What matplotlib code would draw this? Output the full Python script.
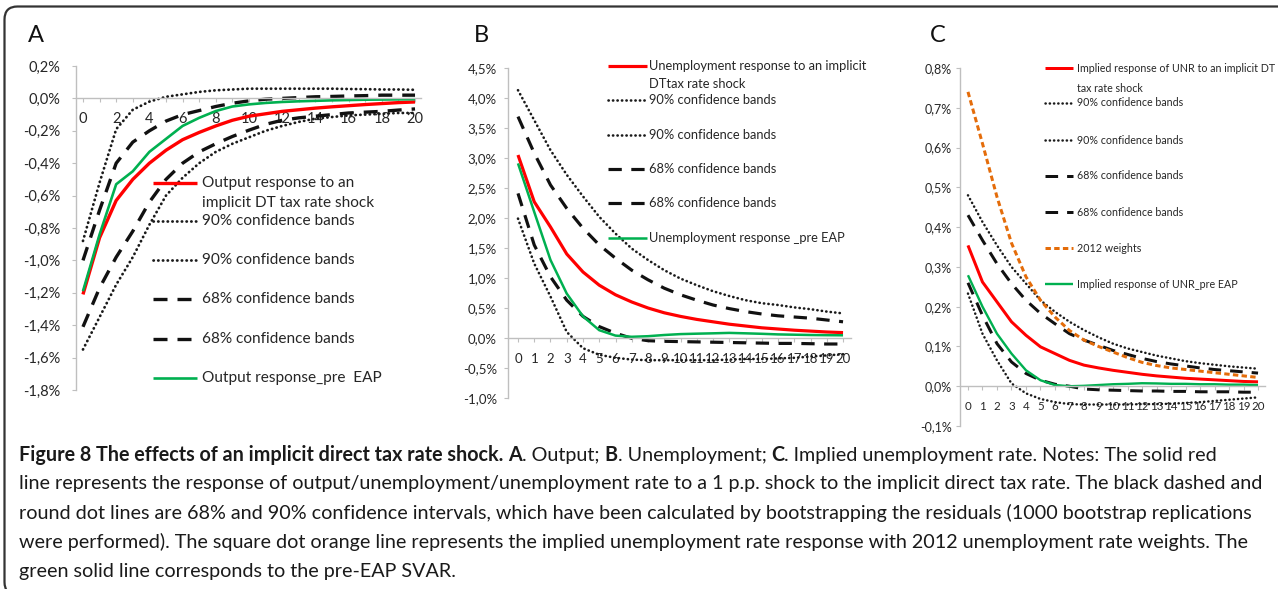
import matplotlib
matplotlib.use("Agg")
import matplotlib.pyplot as plt
from matplotlib.lines import Line2D
from matplotlib.patches import FancyBboxPatch

W, H, DPI = 1278, 589, 100

# ------------------------------------------------------------------ data
periods = list(range(21))

# Panel A: output
a_point = [-1.21, -0.86, -0.63, -0.50, -0.40, -0.32, -0.255, -0.21, -0.17, -0.135, -0.11,
           -0.095, -0.08, -0.07, -0.06, -0.052, -0.045, -0.038, -0.032, -0.026, -0.022]
a_upper90 = [-0.88, -0.52, -0.19, -0.07, -0.02, 0.01, 0.025, 0.04, 0.05, 0.055, 0.06,
             0.06, 0.06, 0.06, 0.06, 0.06, 0.058, 0.057, 0.055, 0.055, 0.053]
a_lower90 = [-1.55, -1.35, -1.15, -0.98, -0.78, -0.60, -0.49, -0.40, -0.33, -0.28, -0.24,
             -0.20, -0.17, -0.145, -0.125, -0.115, -0.105, -0.10, -0.095, -0.09, -0.09]
a_upper68 = [-1.00, -0.69, -0.40, -0.27, -0.20, -0.14, -0.10, -0.075, -0.05, -0.03, -0.015,
             -0.005, 0.0, 0.005, 0.01, 0.012, 0.015, 0.017, 0.02, 0.02, 0.02]
a_lower68 = [-1.41, -1.17, -0.98, -0.82, -0.64, -0.50, -0.40, -0.33, -0.28, -0.235, -0.196,
             -0.16, -0.135, -0.12, -0.11, -0.10, -0.09, -0.085, -0.08, -0.072, -0.065]
a_pre = [-1.19, -0.84, -0.53, -0.45, -0.33, -0.25, -0.17, -0.12, -0.078, -0.05, -0.037,
         -0.028, -0.022, -0.018, -0.015, -0.012, -0.01, -0.008, -0.007, -0.006, -0.005]

# Panel B: unemployment
b_point = [3.05, 2.27, 1.85, 1.40, 1.10, 0.88, 0.72, 0.60, 0.50, 0.42, 0.36,
           0.31, 0.27, 0.23, 0.20, 0.17, 0.15, 0.13, 0.115, 0.10, 0.09]
b_upper90 = [4.13, 3.63, 3.13, 2.72, 2.36, 2.02, 1.74, 1.49, 1.30, 1.13, 0.99,
             0.88, 0.78, 0.70, 0.63, 0.58, 0.55, 0.51, 0.48, 0.44, 0.41]
b_lower90 = [1.99, 1.24, 0.69, 0.10, -0.17, -0.28, -0.33, -0.36, -0.37, -0.37, -0.37,
             -0.37, -0.37, -0.36, -0.35, -0.35, -0.34, -0.33, -0.31, -0.29, -0.27]
b_upper68 = [3.69, 3.08, 2.55, 2.16, 1.83, 1.55, 1.33, 1.13, 0.97, 0.83, 0.72,
             0.63, 0.55, 0.49, 0.44, 0.40, 0.37, 0.35, 0.33, 0.30, 0.27]
b_lower68 = [2.41, 1.55, 1.02, 0.63, 0.36, 0.19, 0.08, -0.005, -0.045, -0.055, -0.06,
             -0.065, -0.07, -0.075, -0.08, -0.085, -0.09, -0.09, -0.095, -0.10, -0.10]
b_pre = [2.91, 2.10, 1.30, 0.74, 0.36, 0.13, 0.04, 0.02, 0.03, 0.05, 0.065,
         0.072, 0.078, 0.085, 0.078, 0.07, 0.06, 0.055, 0.05, 0.047, 0.045]

# Panel C: implied unemployment rate
c_point = [0.354, 0.262, 0.212, 0.162, 0.128, 0.099, 0.082, 0.065, 0.053, 0.046, 0.040,
           0.035, 0.030, 0.026, 0.023, 0.020, 0.018, 0.016, 0.014, 0.012, 0.011]
c_upper90 = [0.48, 0.413, 0.354, 0.30, 0.258, 0.216, 0.187, 0.162, 0.141, 0.123, 0.107,
             0.095, 0.086, 0.077, 0.07, 0.063, 0.058, 0.054, 0.050, 0.047, 0.044]
c_lower90 = [0.233, 0.132, 0.065, 0.007, -0.018, -0.032, -0.040, -0.045, -0.046, -0.046, -0.046,
             -0.046, -0.045, -0.045, -0.044, -0.042, -0.040, -0.037, -0.034, -0.031, -0.028]
c_upper68 = [0.43, 0.367, 0.308, 0.258, 0.216, 0.183, 0.157, 0.132, 0.116, 0.103, 0.09,
             0.08, 0.07, 0.062, 0.056, 0.051, 0.046, 0.042, 0.039, 0.036, 0.033]
c_lower68 = [0.26, 0.178, 0.107, 0.061, 0.032, 0.015, 0.005, 0.0, -0.007, -0.009, -0.01,
             -0.011, -0.012, -0.012, -0.013, -0.013, -0.014, -0.014, -0.014, -0.015, -0.015]
c_w2012 = [0.74, 0.61, 0.476, 0.36, 0.275, 0.216, 0.174, 0.14, 0.116, 0.10, 0.086,
           0.072, 0.06, 0.052, 0.046, 0.042, 0.038, 0.034, 0.030, 0.026, 0.022]
c_pre = [0.279, 0.20, 0.132, 0.082, 0.04, 0.015, 0.003, 0.0, 0.001, 0.003, 0.005,
         0.006, 0.0075, 0.007, 0.006, 0.006, 0.005, 0.005, 0.004, 0.004, 0.003]

# ticks and labels
a_yticks = [0.2, 0.0, -0.2, -0.4, -0.6, -0.8, -1.0, -1.2, -1.4, -1.6, -1.8]
b_yticks = [4.5, 4.0, 3.5, 3.0, 2.5, 2.0, 1.5, 1.0, 0.5, 0.0, -0.5, -1.0]
c_yticks = [0.8, 0.7, 0.6, 0.5, 0.4, 0.3, 0.2, 0.1, 0.0, -0.1]
a_xticklabels = [str(p) if p % 2 == 0 else "" for p in periods]
bc_xticklabels = [str(p) for p in periods]

a_labels = ["Output response to an\nimplicit DT tax rate shock", "90% confidence bands",
            "90% confidence bands", "68% confidence bands", "68% confidence bands",
            "Output response_pre  EAP"]
b_labels = ["Unemployment response to an implicit\nDTtax rate shock", "90% confidence bands",
            "90% confidence bands", "68% confidence bands", "68% confidence bands",
            "Unemployment response _pre EAP"]
c_labels = ["Implied response of UNR to an implicit DT\ntax rate shock", "90% confidence bands",
            "90% confidence bands", "68% confidence bands", "68% confidence bands",
            "2012 weights", "Implied response of UNR_pre EAP"]

caption_lines = [
    [("Figure 8 The effects of an implicit direct tax rate shock. ", True), ("A", True),
     (". Output; ", False), ("B", True), (". Unemployment; ", False), ("C", True),
     (". Implied unemployment rate. Notes: The solid red", False)],
    [("line represents the response of output/unemployment/unemployment rate to a 1 p.p. "
      "shock to the implicit direct tax rate. The black dashed and", False)],
    [("round dot lines are 68% and 90% confidence intervals, which have been calculated by "
      "bootstrapping the residuals (1000 bootstrap replications", False)],
    [("were performed). The square dot orange line represents the implied unemployment rate "
      "response with 2012 unemployment rate weights. The", False)],
    [("green solid line corresponds to the pre-EAP SVAR.", False)],
]

# ------------------------------------------------------------------ styles
RED = "#FF0000"
GREEN = "#00B050"
ORANGE = "#E46C0A"
AXC = "#BFBFBF"
TXT = "#262626"
FONT = ["Lato", "DejaVu Sans"]


def styles(scale=1.0):
    return {
        "red": dict(color=RED, lw=2.4 * scale, solid_capstyle="butt"),
        "dot": dict(color="#1a1a1a", lw=2.0 * scale, linestyle=(0, (0.1, 1.6)),
                    dash_capstyle="round"),
        "dash": dict(color="#111111", lw=2.4 * scale, linestyle=(0, (4.2, 3.0)),
                     dash_capstyle="butt"),
        "orange": dict(color=ORANGE, lw=2.4 * scale, linestyle=(0, (1.8, 1.1)),
                       dash_capstyle="butt"),
        "green": dict(color=GREEN, lw=1.9 * scale, solid_capstyle="butt"),
    }


fig = plt.figure(figsize=(W / DPI, H / DPI), dpi=DPI)
fig.patch.set_facecolor("white")
renderer = fig.canvas.get_renderer()


def fx(px):
    return px / W


def fy(py):
    return 1 - py / H


def make_ax(l, r, t, b):
    return fig.add_axes([l / W, 1 - b / H, (r - l) / W, (b - t) / H])


def pct(v):
    s = f"{v:.1f}".replace("-0.0", "0.0")
    return s.replace(".", ",") + "%"


def twidth(s, size, bold=False):
    kw = dict(fontsize=size, family=FONT, fontweight="bold" if bold else "normal")
    t1 = fig.text(0, 0, "|" + s + "|", **kw)
    t2 = fig.text(0, 0, "||", **kw)
    w = t1.get_window_extent(renderer).width - t2.get_window_extent(renderer).width
    t1.remove()
    t2.remove()
    return w


def fit_size(s, target_px, bold=False):
    return 10.0 * target_px / twidth(s, 10.0, bold)


def style_axes(ax, xlim, ylim, yticks, xticklabels, ysize, xsize, ypad, xpad):
    ax.set_xlim(*xlim)
    ax.set_ylim(*ylim)
    for s in ["top", "right"]:
        ax.spines[s].set_visible(False)
    ax.spines["left"].set_color(AXC)
    ax.spines["bottom"].set_color(AXC)
    ax.spines["left"].set_linewidth(1.0)
    ax.spines["bottom"].set_linewidth(1.0)
    ax.spines["bottom"].set_position(("data", 0))
    ax.set_yticks(yticks)
    ax.set_yticklabels([pct(v) for v in yticks], family=FONT, fontsize=ysize, color=TXT)
    ax.set_xticks(periods)
    ax.set_xticklabels(xticklabels, family=FONT, fontsize=xsize, color=TXT)
    ax.tick_params(axis="y", direction="out", length=3, width=0.8, color=AXC, pad=ypad)
    ax.tick_params(axis="x", direction="out", length=3, width=0.8, color=AXC, pad=xpad)
    ax.patch.set_alpha(0)


def legend(entries, hx0, hx1, tx, rows, gap, size):
    for (st, label), y in zip(entries, rows):
        fig.add_artist(Line2D([fx(hx0), fx(hx1)], [fy(y), fy(y)],
                              transform=fig.transFigure, **st))
        for i, line in enumerate(label.split("\n")):
            fig.text(fx(tx), fy(y + i * gap), line, ha="left", va="center",
                     family=FONT, fontsize=size, color=TXT)


# ------------------------------------------------------------------ panel A
axA = make_ax(76, 421, 66, 390)
stA = styles(1.0)
axA.plot(periods, a_point, **stA["red"])
axA.plot(periods, a_upper90, **stA["dot"])
axA.plot(periods, a_lower90, **stA["dot"])
axA.plot(periods, a_upper68, **stA["dash"])
axA.plot(periods, a_lower68, **stA["dash"])
axA.plot(periods, a_pre, **stA["green"])
style_axes(axA, (-0.42, 20.36), (-1.8, 0.2), a_yticks, a_xticklabels, 10.5, 10.5, 8, 7)
legend(list(zip([stA["red"], stA["dot"], stA["dot"], stA["dash"], stA["dash"], stA["green"]],
                a_labels)),
       153, 197, 202, [183, 221, 260, 299, 339, 378], 20,
       fit_size(a_labels[0].split("\n")[0], 153))
fig.text(fx(36), fy(36), "A", ha="center", va="center", family=FONT, fontsize=17, color="#111")

# ------------------------------------------------------------------ panel B
axB = make_ax(508, 851, 68, 398)
stB = styles(0.95)
axB.plot(periods, b_point, **stB["red"])
axB.plot(periods, b_upper90, **stB["dot"])
axB.plot(periods, b_lower90, **stB["dot"])
axB.plot(periods, b_upper68, **stB["dash"])
axB.plot(periods, b_lower68, **stB["dash"])
axB.plot(periods, b_pre, **stB["green"])
style_axes(axB, (-0.615, 20.49), (-1.0, 4.5), b_yticks, bc_xticklabels, 9.5, 9.5, 5, 8)
legend(list(zip([stB["red"], stB["dot"], stB["dot"], stB["dash"], stB["dash"], stB["green"]],
                b_labels)),
       608, 647, 649, [66, 100, 135, 169, 203, 238], 18,
       fit_size(b_labels[0].split("\n")[0], 218))
fig.text(fx(481), fy(36), "B", ha="center", va="center", family=FONT, fontsize=17, color="#111")

# ------------------------------------------------------------------ panel C
axC = make_ax(960, 1265, 68, 426)
stC = styles(0.9)
axC.plot(periods, c_point, **stC["red"])
axC.plot(periods, c_upper90, **stC["dot"])
axC.plot(periods, c_lower90, **stC["dot"])
axC.plot(periods, c_upper68, **stC["dash"])
axC.plot(periods, c_lower68, **stC["dash"])
axC.plot(periods, c_w2012, **stC["orange"])
axC.plot(periods, c_pre, **stC["green"])
style_axes(axC, (-0.55, 20.48), (-0.1, 0.8), c_yticks, bc_xticklabels, 9, 8.3, 3, 8)
legend(list(zip([stC["red"], stC["dot"], stC["dot"], stC["dash"], stC["dash"], stC["orange"],
                 stC["green"]], c_labels)),
       1045, 1073, 1077, [68, 103, 140, 176, 212, 248, 284], 20,
       fit_size(c_labels[0].split("\n")[0], 197))
fig.text(fx(938), fy(36), "C", ha="center", va="center", family=FONT, fontsize=17, color="#111")

# ------------------------------------------------------------------ caption
ref_line = caption_lines[3]
w0 = sum(twidth(s, 12, b) for s, b in ref_line)
cap_size = 12 * (1247 - 19) / w0

cap_y = [455, 484, 513, 542, 571]
for segs, y in zip(caption_lines, cap_y):
    x = 19
    for s, b in segs:
        fig.text(fx(x), fy(y), s, ha="left", va="center", family=FONT, fontsize=cap_size,
                 fontweight="bold" if b else "normal", color="#1a1a1a")
        x += twidth(s, cap_size, b)

# ------------------------------------------------------------------ frame
frame = FancyBboxPatch((4.5, H - 595), 1320, 595 - 6.5,
                       boxstyle="round,pad=0,rounding_size=13", transform=None,
                       fill=False, ec="#333333", lw=1.6)
fig.add_artist(frame)

fig.savefig("out.png", dpi=DPI)
